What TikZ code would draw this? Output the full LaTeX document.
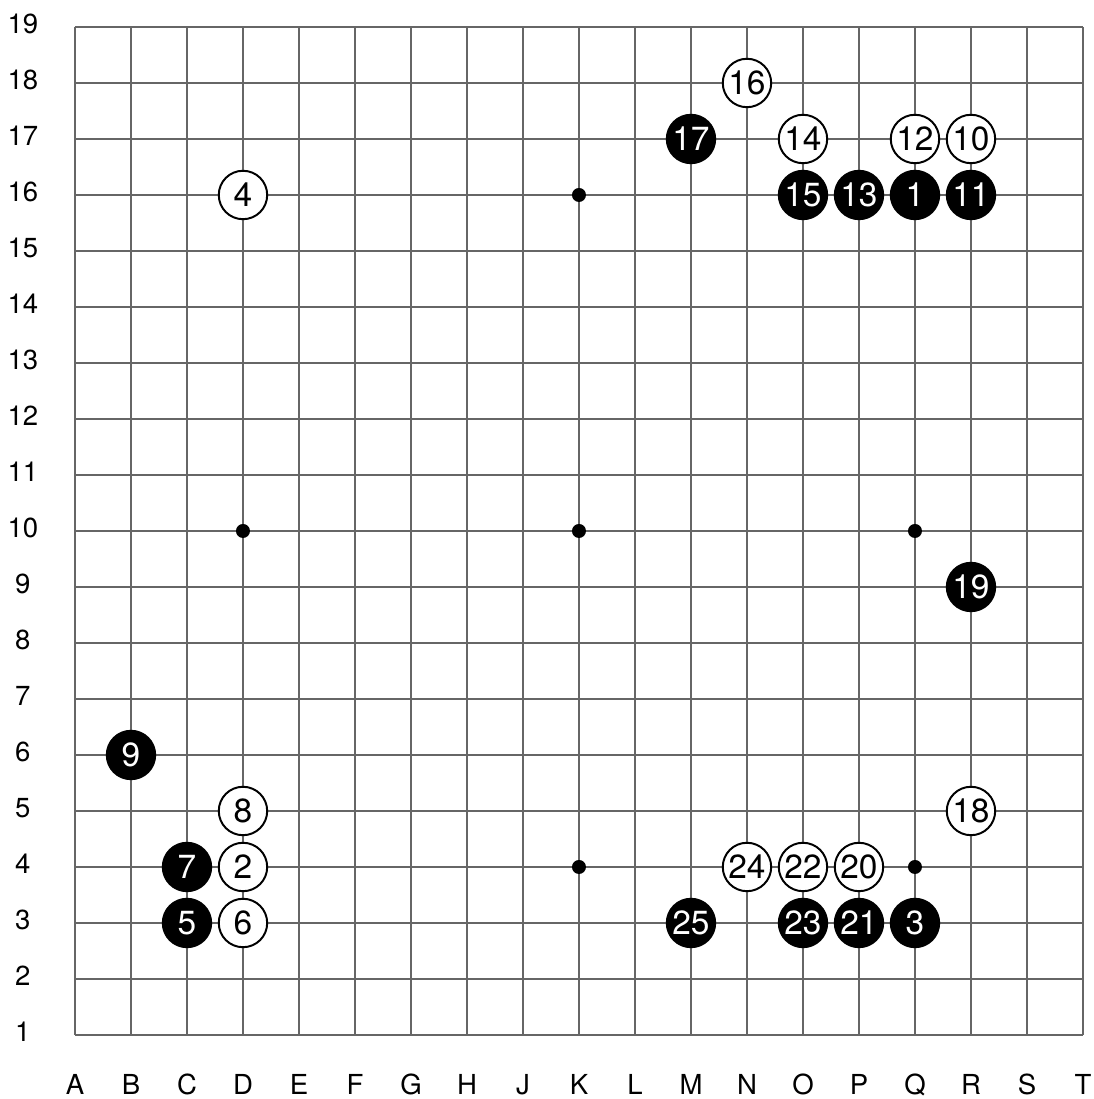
\documentclass[tikz,border=0pt]{standalone}
\usepackage{fontspec}
\setmainfont{TeX Gyre Heros}
\usepackage{tikz}
\usetikzlibrary{positioning}
\definecolor{BoardGray}{HTML}{666666}

\tikzset{
  boardline/.style={BoardGray,line width=1.1pt},
  boardlabel/.style={font=\fontsize{14}{16}\selectfont,inner sep=0pt},
  blackstone/.style={circle,fill=black,text=white,minimum size=0.9cm,inner sep=0pt,
    font=\fontsize{17}{19}\selectfont},
  whitestone/.style={circle,draw=black,line width=1pt,fill=white,text=black,
    minimum size=0.9cm-1pt,inner sep=0pt,font=\fontsize{17}{19}\selectfont},
  hoshi/.style={circle,fill=black,minimum size=0.25cm,inner sep=0pt}
}

\begin{document}
\begin{tikzpicture}
  \useasboundingbox (-1.339,-1.143) rectangle (18.196,18.482);
  % grid
  \foreach \i in {0,...,18} {
    \draw[boardline] (\i,0) -- (\i,18);
    \draw[boardline] (0,\i) -- (18,\i);
  }
  % coordinates
  \foreach \l [count=\i from 0] in {A,B,C,D,E,F,G,H,J,K,L,M,N,O,P,Q,R,S,T}
    \node[boardlabel] (col\l) at (\i,-0.89) {\l};
  \foreach \r [count=\j from 0] in {1,...,19}
    \node[boardlabel] (row\r) at (-0.93,\j+0.05) {\r};
  % star points
  \foreach \x in {3,9,15}
    \foreach \y in {3,9,15}
      \node[hoshi] (hoshi\x-\y) at (\x,\y) {};
  % black moves
  \foreach \n/\x/\y in {1/15/15,3/15/2,5/2/2,7/2/3,9/1/5,11/16/15,13/14/15,
                        15/13/15,17/11/16,19/16/8,21/14/2,23/13/2,25/11/2}
    \node[blackstone] (move\n) at (\x,\y) {\n};
  % white moves
  \foreach \n/\x/\y in {2/3/3,4/3/15,6/3/2,8/3/4,10/16/16,12/15/16,14/13/16,
                        16/12/17,18/16/4,20/14/3,22/13/3,24/12/3}
    \node[whitestone] (move\n) at (\x,\y) {\n};
\end{tikzpicture}
\end{document}
